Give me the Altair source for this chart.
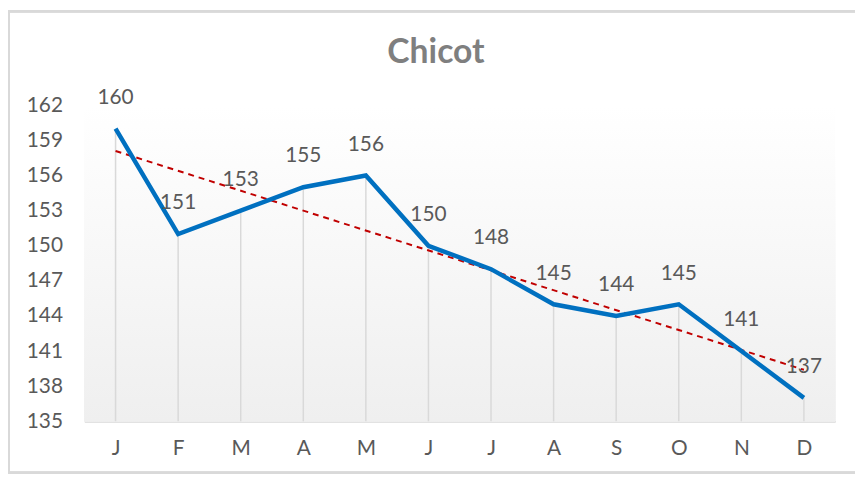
import altair as alt
import pandas as pd

months = ["J", "F", "M", "A", "M", "J", "J", "A", "S", "O", "N", "D"]
values = [160, 151, 153, 155, 156, 150, 148, 145, 144, 145, 141, 137]
trend_x = [0, 11]
trend_y = [158.1, 139.4]
y_ticks = [135, 138, 141, 144, 147, 150, 153, 156, 159, 162]
title_text = "Chicot"

df = pd.DataFrame({"i": list(range(len(months))), "m": months, "v": values})
tdf = pd.DataFrame({"i": trend_x, "v": trend_y})

W, H = 758, 319
label_expr = "[" + ",".join("'%s'" % m for m in months) + "][datum.value]"
FONT = "Lato"
TXT = "#595959"

xs = alt.Scale(domain=[-0.5, 11.5], nice=False, zero=False)
ys = alt.Scale(domain=[135, 162], nice=False, zero=False)

x_axis = alt.Axis(
    values=list(range(12)), labelExpr=label_expr, title=None, grid=False,
    domain=True, domainColor="#d9d9d9", domainWidth=2, ticks=False,
    labelFont=FONT, labelFontSize=21, labelColor=TXT, labelPadding=17,
    labelOverlap=False)
y_axis = alt.Axis(
    values=y_ticks, title=None, grid=False, domain=False, ticks=False,
    labelFont=FONT, labelFontSize=21, labelColor=TXT, labelPadding=22,
    labelOverlap=False)

def X():
    return alt.X("i:Q", scale=xs, axis=x_axis)

def Y():
    return alt.Y("v:Q", scale=ys, axis=y_axis)

bg = alt.Chart(df).mark_rect(
    fill=alt.Gradient(gradient="linear", x1=0, y1=0, x2=0, y2=1,
                      stops=[alt.GradientStop(color="#ffffff", offset=0),
                             alt.GradientStop(color="#efefef", offset=1)])
).encode(x=alt.value(0), x2=alt.value(W), y=alt.value(0), y2=alt.value(H))

border = alt.Chart(df).mark_rect(
    fill=None, stroke="#d9d9d9", strokeWidth=2, clip=False
).encode(x=alt.value(-76), x2=alt.value(W + 30), y=alt.value(-95), y2=alt.value(H + 52))

drops = alt.Chart(df).mark_rule(color="#d9d9d9", strokeWidth=1.5).encode(
    x=X(), y=Y(), y2=alt.datum(135))

line = alt.Chart(df).mark_line(color="#0070c0", strokeWidth=4.5, strokeJoin="miter").encode(
    x=X(), y=Y())

trend = alt.Chart(tdf).mark_line(color="#c00000", strokeWidth=2, strokeDash=[6, 5]).encode(
    x=X(), y=Y())

labels = alt.Chart(df).mark_text(font=FONT, fontSize=21, color=TXT, dy=-31,
                                 baseline="middle").encode(
    x=X(), y=Y(), text="v:Q")

title = alt.Chart(pd.DataFrame({"t": [title_text]})).mark_text(
    font=FONT, fontSize=34, fontWeight="bold", color="#7f7f7f",
    baseline="alphabetic", align="center", clip=False
).encode(x=alt.value(355), y=alt.value(-43), text="t:N")

chart = alt.layer(border, bg, drops, trend, line, labels, title).properties(
    width=W, height=H,
    autosize=alt.AutoSizeParams(type="none"),
    padding={"left": 77, "top": 96, "right": 20, "bottom": 54},
).configure_view(stroke=None)

chart.save("out.html", embed_options={"renderer": "svg", "actions": False})
